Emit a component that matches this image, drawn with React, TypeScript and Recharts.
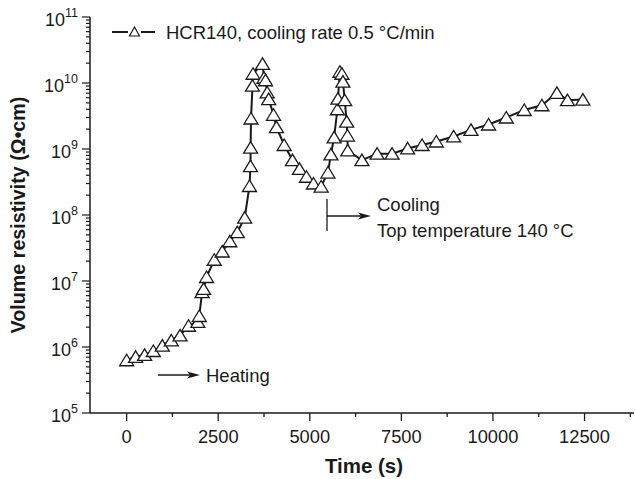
import React from 'react';
import { LineChart, Line, XAxis, YAxis } from 'recharts';

// Time (s) of each measurement
const timeS = [
  0, 245, 491, 728, 974, 1219, 1459, 1690, 1944, 1983,
  2060, 2100, 2182, 2392, 2610, 2817, 3021, 3223, 3354, 3381,
  3385, 3395, 3436, 3450, 3709, 3750, 3791, 3837, 3878, 4009,
  4090, 4300, 4527, 4718, 4909, 5100, 5310, 5495, 5577, 5664,
  5754, 5768, 5822, 5877, 5904, 5953, 6007, 6027, 6035, 6422,
  6837, 7246, 7671, 8064, 8454, 8926, 9400, 9880, 10363, 10854,
  11336, 11745, 12035, 12454,
];

// Volume resistivity (Ω·cm) at each time
const resistivity = [
  6.3e5, 7.1e5, 7.6e5, 8.7e5, 1.05e6, 1.26e6, 1.5e6, 2.1e6, 2.4e6, 2.95e6,
  6.8e6, 7.6e6, 1.15e7, 2.1e7, 2.8e7, 4.0e7, 5.5e7, 9.1e7, 2.75e8, 5.5e8,
  1.05e9, 2.9e9, 9.1e9, 1.38e10, 1.95e10, 1.2e10, 1.1e10, 7.2e9, 5.7e9, 3.3e9,
  2.15e9, 1.15e9, 6.8e8, 5.0e8, 3.8e8, 3.0e8, 2.7e8, 4.4e8, 8.3e8, 1.5e9,
  4.0e9, 5.8e9, 1.48e10, 1.38e10, 1.05e10, 5.5e9, 2.6e9, 1.6e9, 9.5e8, 6.8e8,
  8.5e8, 8.5e8, 1.02e9, 1.15e9, 1.3e9, 1.55e9, 1.95e9, 2.35e9, 3.0e9, 3.9e9,
  4.6e9, 7.1e9, 5.5e9, 5.6e9,
];

const seriesName = 'HCR140, cooling rate 0.5 °C/min';

// Axis ticks
const xMajorTicks = [0, 2500, 5000, 7500, 10000, 12500];
const xMinorTicks = [1250, 3750, 6250, 8750, 11250, 13750];
const yExponents = [5, 6, 7, 8, 9, 10, 11];
const yMinorFactors = [2, 3, 4, 5, 6, 7, 8, 9];

const xTicks = [...xMajorTicks, ...xMinorTicks].sort((a, b) => a - b);
const yTicks: number[] = [];
yExponents.forEach((e) => {
  yTicks.push(Math.pow(10, e));
  if (e < 11) yMinorFactors.forEach((f) => yTicks.push(f * Math.pow(10, e)));
});

const data = timeS.map((t, i) => ({ t, v: resistivity[i] }));

const FONT = '"Liberation Sans", Arial, sans-serif';
const INK = '#1a1a1a';
const LABEL_SIZE = 18.5;

const XTick = (props: any) => {
  const { x, y, payload } = props;
  const major = xMajorTicks.includes(payload.value);
  return (
    <g>
      <line x1={x} x2={x} y1={y} y2={y + (major ? 8 : 4)} stroke={INK} strokeWidth={1.3} />
      {major && (
        <text x={x} y={y + 30} textAnchor="middle" fontSize={18.3} fontFamily={FONT} fill={INK}>
          {payload.value}
        </text>
      )}
    </g>
  );
};

const YTick = (props: any) => {
  const { x, y, payload } = props;
  const lg = Math.log10(payload.value);
  const exp = Math.round(lg);
  const major = Math.abs(lg - exp) < 1e-6;
  return (
    <g>
      <line x1={x} x2={x - (major ? 8 : 4)} y1={y} y2={y} stroke={INK} strokeWidth={1.2} />
      {major && (
        <text x={x - 12} y={y + 8.5} textAnchor="end" fontSize={18} fontFamily={FONT} fill={INK}>
          <tspan>10</tspan>
          <tspan dy={-9} fontSize={12.5}>{exp}</tspan>
        </text>
      )}
    </g>
  );
};

const TriangleDot = (props: any) => {
  const { cx, cy, index } = props;
  if (cx == null || cy == null) return <g key={`d-${index}`} />;
  const h = 7;
  return (
    <polygon
      key={`d-${index}`}
      points={`${cx},${cy - 6} ${cx - h},${cy + 5.5} ${cx + h},${cy + 5.5}`}
      fill="#fff"
      stroke={INK}
      strokeWidth={1.3}
      strokeLinejoin="miter"
    />
  );
};

const ArrowHead = ({ x, y }: { x: number; y: number }) => (
  <path d={`M ${x} ${y} L ${x - 13} ${y - 3.5} L ${x - 10} ${y} L ${x - 13} ${y + 3.5} Z`} fill={INK} />
);

export default function App() {
  return (
    <div style={{ position: 'absolute', left: 0, top: 0, width: 636, height: 479, background: '#fff', fontFamily: FONT }}>
      <LineChart width={636} height={479} data={data} margin={{ top: 17, right: 2, bottom: 0, left: 0 }}>
        <XAxis
          dataKey="t"
          type="number"
          domain={[-1000, 13850]}
          ticks={xTicks}
          tick={<XTick />}
          tickLine={false}
          tickSize={0}
          tickMargin={0}
          height={66}
          axisLine={{ stroke: INK, strokeWidth: 1.5 }}
          interval={0}
          allowDataOverflow
        />
        <YAxis
          type="number"
          scale="log"
          domain={[1e5, 1e11]}
          ticks={yTicks}
          tick={<YTick />}
          tickLine={false}
          tickSize={0}
          tickMargin={0}
          width={90}
          axisLine={{ stroke: INK, strokeWidth: 1.5 }}
          interval={0}
          allowDataOverflow
        />
        <Line
          dataKey="v"
          name={seriesName}
          stroke={INK}
          strokeWidth={2}
          dot={(p: any) => <TriangleDot key={`d-${p.index}`} {...p} />}
          activeDot={false}
          isAnimationActive={false}
          type="linear"
        />
      </LineChart>
      <svg
        width={636}
        height={479}
        style={{ position: 'absolute', left: 0, top: 0, pointerEvents: 'none' }}
        fontFamily={FONT}
      >
        {/* legend */}
        <line x1={112} x2={128} y1={32} y2={32} stroke={INK} strokeWidth={2} />
        <line x1={141} x2={155} y1={32} y2={32} stroke={INK} strokeWidth={2} />
        <polygon points="134.5,27 129.5,36 139.5,36" fill="#fff" stroke={INK} strokeWidth={1.2} />
        <text x={166} y={39} fontSize={LABEL_SIZE} fill={INK}>{seriesName}</text>

        {/* heating annotation */}
        <line x1={158} x2={192} y1={375} y2={375} stroke={INK} strokeWidth={1.3} />
        <ArrowHead x={200} y={375} />
        <text x={206} y={381.5} fontSize={LABEL_SIZE} fill={INK}>Heating</text>

        {/* cooling annotation */}
        <line x1={327} x2={327} y1={199} y2={231} stroke={INK} strokeWidth={1.3} />
        <line x1={327} x2={362} y1={216} y2={216} stroke={INK} strokeWidth={1.3} />
        <ArrowHead x={371} y={216} />
        <text x={377} y={210.5} fontSize={LABEL_SIZE} fill={INK}>Cooling</text>
        <text x={377} y={236.5} fontSize={LABEL_SIZE} fill={INK}>Top temperature 140 °C</text>

        {/* axis titles */}
        <text
          x={25}
          y={215}
          transform="rotate(-90 25 215)"
          textAnchor="middle"
          fontSize={19.7}
          fontWeight="bold"
          fill={INK}
        >
          Volume resistivity (Ω•cm)
        </text>
        <text x={364} y={472.5} textAnchor="middle" fontSize={20.5} fontWeight="bold" fill={INK}>
          Time (s)
        </text>
      </svg>
    </div>
  );
}
